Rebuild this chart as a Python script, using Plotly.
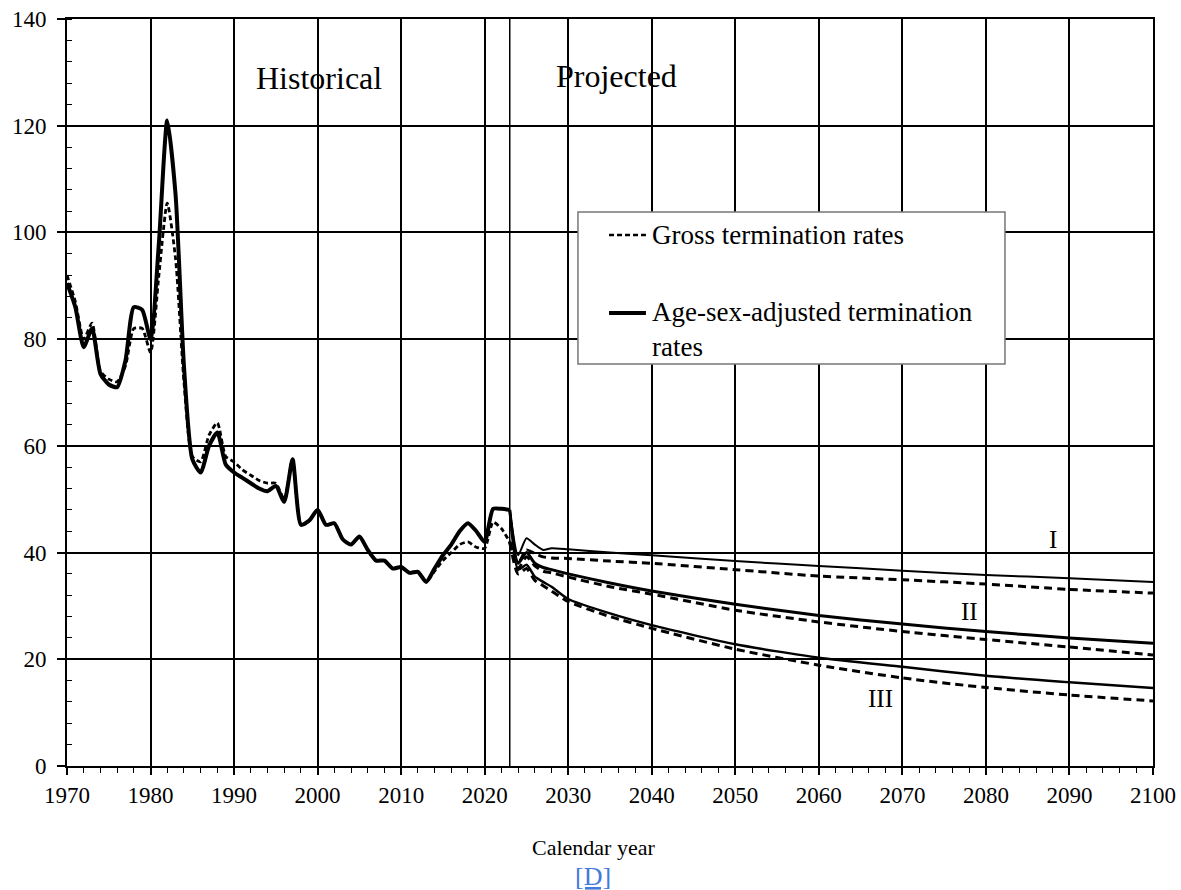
import plotly.graph_objects as go

# ---------------- data ----------------
hist_years = list(range(1970, 2024))
adjusted_hist = [90.5, 86.0, 78.5, 82.0, 73.5, 71.5, 71.0, 76.0, 86.0, 85.5,
                 80.0, 98.0, 121.0, 107.0, 75.0, 57.5, 55.0, 60.0, 62.5, 56.5,
                 55.0, 54.0, 53.0, 52.0, 51.5, 52.5, 49.5, 57.5, 45.2, 46.0,
                 48.0, 45.2, 45.5, 42.5, 41.5, 43.0, 40.5, 38.5, 38.5, 37.0,
                 37.3, 36.2, 36.4, 34.5, 37.0, 39.5, 41.5, 44.0, 45.5, 44.0,
                 42.0, 48.2, 48.2, 48.0]
gross_hist = [92.0, 87.0, 80.0, 83.0, 74.0, 72.5, 72.0, 75.0, 82.0, 82.0,
              77.5, 92.0, 105.5, 95.0, 72.0, 58.0, 57.0, 62.0, 64.3, 58.0,
              57.0, 55.5, 54.5, 53.5, 53.0, 53.0, 50.0, 57.5, 45.2, 46.0,
              48.0, 45.2, 45.5, 42.5, 41.5, 43.0, 40.5, 38.5, 38.5, 37.0,
              37.3, 36.2, 36.4, 34.5, 36.5, 38.5, 40.0, 41.5, 42.0, 41.0,
              40.8, 45.7, 44.5, 42.0]

proj_years = [2023, 2024, 2025, 2026, 2027, 2028, 2030, 2035, 2040, 2050,
              2060, 2070, 2080, 2090, 2100]
adjusted_I = [48.0, 39.5, 42.7, 41.5, 40.5, 40.8, 40.6, 40.0, 39.5, 38.4,
              37.5, 36.6, 35.8, 35.2, 34.5]
gross_I = [42.0, 38.0, 40.5, 39.8, 39.2, 39.0, 38.9, 38.4, 38.0, 36.8,
           35.6, 34.9, 34.1, 33.1, 32.4]
adjusted_II = [48.0, 38.0, 40.0, 38.0, 37.2, 36.8, 36.0, 34.3, 32.8, 30.3,
               28.2, 26.6, 25.2, 24.0, 23.0]
gross_II = [42.0, 37.0, 39.2, 37.5, 36.5, 36.2, 35.4, 33.6, 32.2, 29.2,
            27.0, 25.2, 23.7, 22.3, 20.8]
adjusted_III = [48.0, 36.8, 37.7, 35.5, 34.5, 33.6, 31.3, 28.6, 26.4, 22.8,
                20.3, 18.6, 16.9, 15.7, 14.6]
gross_III = [42.0, 36.0, 37.0, 34.8, 33.8, 32.8, 30.8, 28.0, 25.8, 21.9,
             18.9, 16.5, 14.7, 13.3, 12.2]

x_ticks = list(range(1970, 2101, 10))
y_ticks = list(range(0, 141, 20))
split_year = 2023

FONT = "Liberation Serif"

fig = go.Figure()

def add_line(x, y, dash, width, name):
    fig.add_trace(go.Scatter(
        x=x, y=y, mode="lines", name=name, showlegend=False,
        line=dict(color="black", width=width, dash=dash,
                  shape="spline", smoothing=0.6),
        hoverinfo="x+y"))

add_line(hist_years, gross_hist, "5px,3px", 2.8, "Gross termination rates")
add_line(hist_years, adjusted_hist, "solid", 4, "Age-sex-adjusted termination rates")
add_line(proj_years, gross_I, "8px,5px", 3, "Gross I")
add_line(proj_years, adjusted_I, "solid", 2, "Adjusted I")
add_line(proj_years, gross_II, "8px,5px", 3, "Gross II")
add_line(proj_years, adjusted_II, "solid", 3, "Adjusted II")
add_line(proj_years, gross_III, "8px,5px", 3, "Gross III")
add_line(proj_years, adjusted_III, "solid", 2.5, "Adjusted III")

# separator between historical and projected
fig.add_shape(type="line", xref="x", yref="paper", x0=split_year, x1=split_year,
              y0=0, y1=1, line=dict(color="black", width=1.5), layer="below")

# manual legend box
lx0, lx1, ly0, ly1 = 0.4705, 0.8637, 0.5382, 0.7416
fig.add_shape(type="rect", xref="paper", yref="paper", x0=lx0, x1=lx1, y0=ly0, y1=ly1,
              line=dict(color="#777777", width=1.5), fillcolor="white", layer="above")
fig.add_shape(type="line", xref="paper", yref="paper", x0=0.4991, x1=0.5331,
              y0=0.7108, y1=0.7108, line=dict(color="black", width=2.5, dash="5px,3px"))
fig.add_shape(type="line", xref="paper", yref="paper", x0=0.4991, x1=0.5331,
              y0=0.6064, y1=0.6064, line=dict(color="black", width=4))

annotations = [
    dict(x=0.5368, y=0.7108, xref="paper", yref="paper", text="Gross termination rates",
         showarrow=False, xanchor="left", yanchor="middle", align="left",
         font=dict(family=FONT, size=27, color="black")),
    dict(x=0.5368, y=0.5843, xref="paper", yref="paper",
         text="Age-sex-adjusted termination<br>rates",
         showarrow=False, xanchor="left", yanchor="middle", align="left",
         font=dict(family=FONT, size=27, color="black")),
    dict(x=2000.2, y=129.0, text="Historical", showarrow=False,
         font=dict(family=FONT, size=32, color="black")),
    dict(x=2035.8, y=129.3, text="Projected", showarrow=False,
         font=dict(family=FONT, size=32, color="black")),
    dict(x=2088.0, y=42.4, text="I", showarrow=False,
         font=dict(family=FONT, size=25, color="black")),
    dict(x=2078.0, y=29.0, text="II", showarrow=False,
         font=dict(family=FONT, size=25, color="black")),
    dict(x=2067.4, y=12.7, text="III", showarrow=False,
         font=dict(family=FONT, size=25, color="black")),
    dict(x=0.4845, y=-0.1095, xref="paper", yref="paper", text="Calendar year",
         showarrow=False, xanchor="center", yanchor="middle",
         font=dict(family=FONT, size=22, color="black")),
    dict(x=0.4845, y=-0.1485, xref="paper", yref="paper",
         text="<a href='#'><span style='text-decoration:underline'>[D]</span></a>",
         showarrow=False, xanchor="center", yanchor="middle",
         font=dict(family=FONT, size=26, color="#3b5fc0")),
]

fig.update_layout(
    width=1181, height=890,
    margin=dict(l=67, r=28, t=19, b=124, autoexpand=False),
    paper_bgcolor="white", plot_bgcolor="white",
    showlegend=False,
    annotations=annotations,
    font=dict(family=FONT, size=23, color="black"),
)

fig.update_xaxes(
    range=[1970, 2100], tickvals=x_ticks, ticktext=[str(v) for v in x_ticks],
    showgrid=True, gridcolor="black", gridwidth=1.5,
    showline=True, linecolor="black", linewidth=2, mirror=True,
    ticks="outside", ticklen=7, tickwidth=1.5, tickcolor="black",
    minor=dict(dtick=2, ticks="outside", ticklen=5, tickwidth=1, tickcolor="black",
               showgrid=False),
    automargin=False, ticklabeloverflow="allow",
    zeroline=False, tickfont=dict(family=FONT, size=23, color="black"),
)
fig.update_yaxes(
    range=[0, 140], tickvals=y_ticks, ticktext=[str(v) for v in y_ticks],
    showgrid=True, gridcolor="black", gridwidth=1.5,
    showline=True, linecolor="black", linewidth=2, mirror=True,
    ticks="outside", ticklen=8, tickwidth=1.5, tickcolor="black",
    ticklabelstandoff=6,
    minor=dict(dtick=4, ticks="inside", ticklen=5, tickwidth=1, tickcolor="black",
               showgrid=False),
    automargin=False, ticklabeloverflow="allow",
    zeroline=False, tickfont=dict(family=FONT, size=23, color="black"),
)

fig.write_html("out.html")
